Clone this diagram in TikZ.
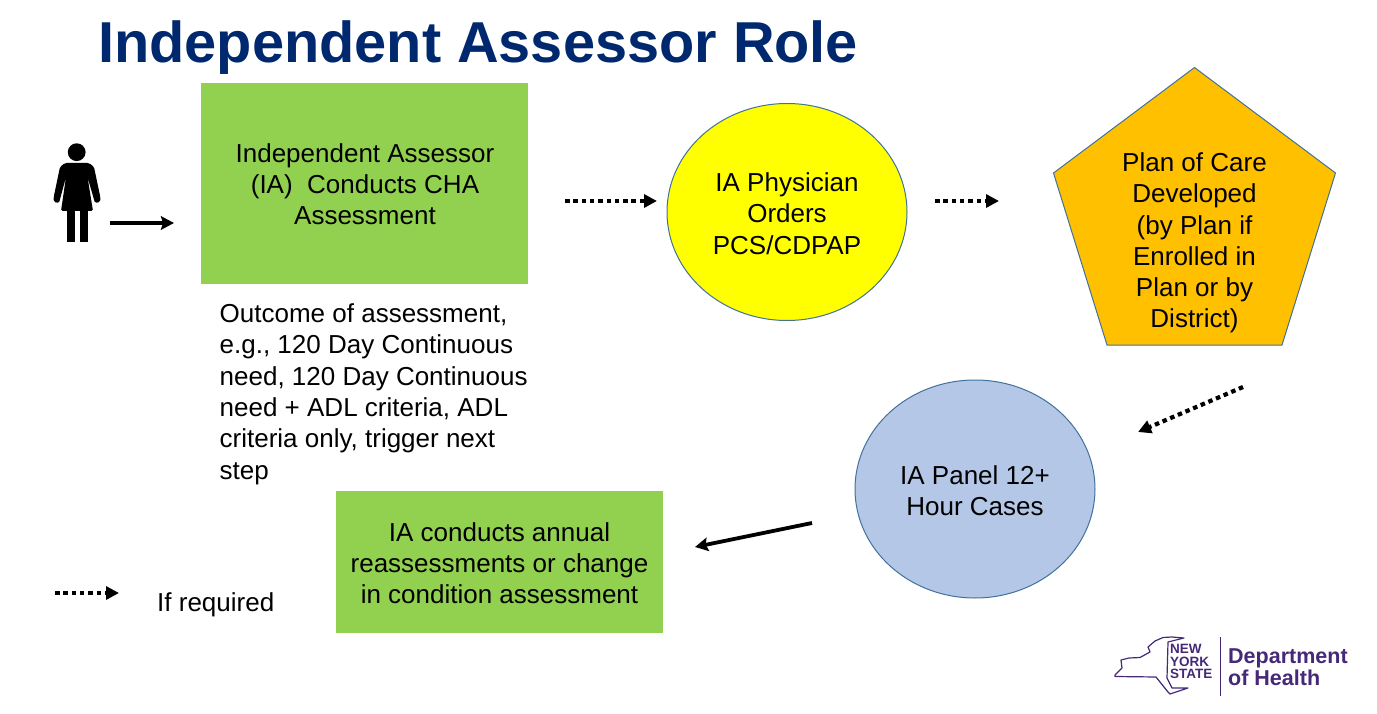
\documentclass[tikz,border=0pt]{standalone}
\usepackage{fontspec}
\setmainfont{Liberation Sans}
\usetikzlibrary{arrows.meta,shapes.geometric}
\definecolor{titleblue}{RGB}{0,40,110}
\definecolor{boxgreen}{RGB}{146,208,80}
\definecolor{edgeblue}{RGB}{65,113,156}
\definecolor{panelblue}{RGB}{180,199,231}
\definecolor{planorange}{RGB}{255,192,0}
\definecolor{nypurple}{RGB}{70,40,120}
\definecolor{pureyellow}{RGB}{255,255,0}
\tikzset{
  x=1pt,y=-1pt,
  body/.style={font=\fontsize{26}{31.3}\selectfont,align=center,text=black,inner sep=0pt},
  roundnode/.style={ellipse,draw=edgeblue,line width=1pt,inner sep=0pt,minimum width=240pt,minimum height=217pt},
  solidarrow/.style={line width=3.8pt,-{Stealth[length=13pt,width=13.5pt,inset=2pt]}},
  dotarrow/.style={line width=4.2pt,dash pattern=on 4.5pt off 3.8pt,-{Triangle[length=13pt,width=13pt]}},
  logotext/.style={text=nypurple,inner sep=0pt,align=left},
}
\begin{document}
\begin{tikzpicture}
\useasboundingbox (0,0) rectangle (1377,714);
\node[font=\fontsize{57.7}{60}\selectfont\bfseries,text=titleblue,anchor=base west,inner sep=0pt] (title) at (98,63) {Independent Assessor Role};

% person
\fill[black] (76.7,152.2) circle (8.9);
\fill[black,rounded corners=1.5pt] (65,163) -- (89,163) -- (94,167) -- (100.5,198) -- (100,202) -- (95,203) -- (87.5,177) -- (93,211) -- (61,211) -- (66,177) -- (59,203) -- (54,202) -- (53.5,198) -- (60,167) -- cycle;
\fill[black] (67,210) rectangle (75,242);
\fill[black] (79.5,210) rectangle (88,242);
\coordinate (personout) at (110,223);
\coordinate (personin) at (174,223);
\draw[solidarrow] (personout) -- (personin);

% boxes
\path[fill=boxgreen] (201,83) rectangle (528,284);
\node[body] (cha) at (365,184.2) {Independent Assessor\\(IA)\ \ Conducts CHA\\Assessment};
\node[body,align=left,anchor=north west] (outcome) at (219.5,303.5) {Outcome of assessment,\\e.g., 120 Day Continuous\\need, 120 Day Continuous\\need + ADL criteria, ADL\\criteria only, trigger next\\step};

\node[roundnode,fill=pureyellow] (phys) at (787,212) {};
\node[body] (physlabel) at (787,213.7) {IA Physician\\Orders\\PCS/CDPAP};

\fill[planorange,draw=edgeblue,line width=1pt] (1194.5,67.5) -- (1335.5,173) -- (1282,345) -- (1107,345) -- (1053.5,173) -- cycle;
\node[body] (plan) at (1194.5,243) {Plan of Care\\Developed\\(by Plan if\\Enrolled in\\Plan or by\\District)};

\node[roundnode,fill=panelblue,minimum height=218pt] (panel) at (975,489) {};
\node[body] (panellabel) at (975,490.5) {IA Panel 12+\\Hour Cases};

\path[fill=boxgreen] (336,491) rectangle (663,633);
\node[body] (annual) at (499.5,563.3) {IA conducts annual\\reassessments or change\\in condition assessment};

% arrows
\coordinate (a1s) at (565,201); \coordinate (a1e) at (657,201);
\coordinate (a2s) at (935,201); \coordinate (a2e) at (999,201);
\coordinate (a3s) at (1243,387); \coordinate (a3e) at (1138,432);
\coordinate (a4s) at (812,523); \coordinate (a4e) at (695,547);
\coordinate (a5s) at (55,593); \coordinate (a5e) at (119,593);
\draw[dotarrow] (a1s) -- (a1e);
\draw[dotarrow] (a2s) -- (a2e);
\draw[dotarrow] (a3s) -- (a3e);
\draw[solidarrow] (a4s) -- (a4e);
\draw[dotarrow] (a5s) -- (a5e);
\node[font=\fontsize{26}{30}\selectfont,inner sep=0pt,anchor=base west] (ifreq) at (157,611) {If required};

% logo
\draw[nypurple,line width=1.2pt,line join=round] (1115,675) -- (1122,668) -- (1121,660) -- (1129,658) -- (1140,657.5) -- (1150,652) -- (1148,647) -- (1155,641) -- (1163,637.5) -- (1172,637) -- (1184,638) -- (1168,642) -- (1167,678) -- (1172,688) -- (1188,688) -- (1170,694) -- (1168,692) -- (1156,677) -- (1115,676.5) -- cycle;
\node[logotext,font=\fontsize{13.5}{12.8}\selectfont\bfseries,anchor=west] (ny) at (1170,661.5) {NEW\\YORK\\STATE};
\draw[nypurple,line width=1pt] (1220.5,637) -- (1220.5,696);
\node[logotext,font=\fontsize{21.5}{22.5}\selectfont\bfseries,anchor=west] (doh) at (1228,667) {Department\\of Health};
\end{tikzpicture}
\end{document}
